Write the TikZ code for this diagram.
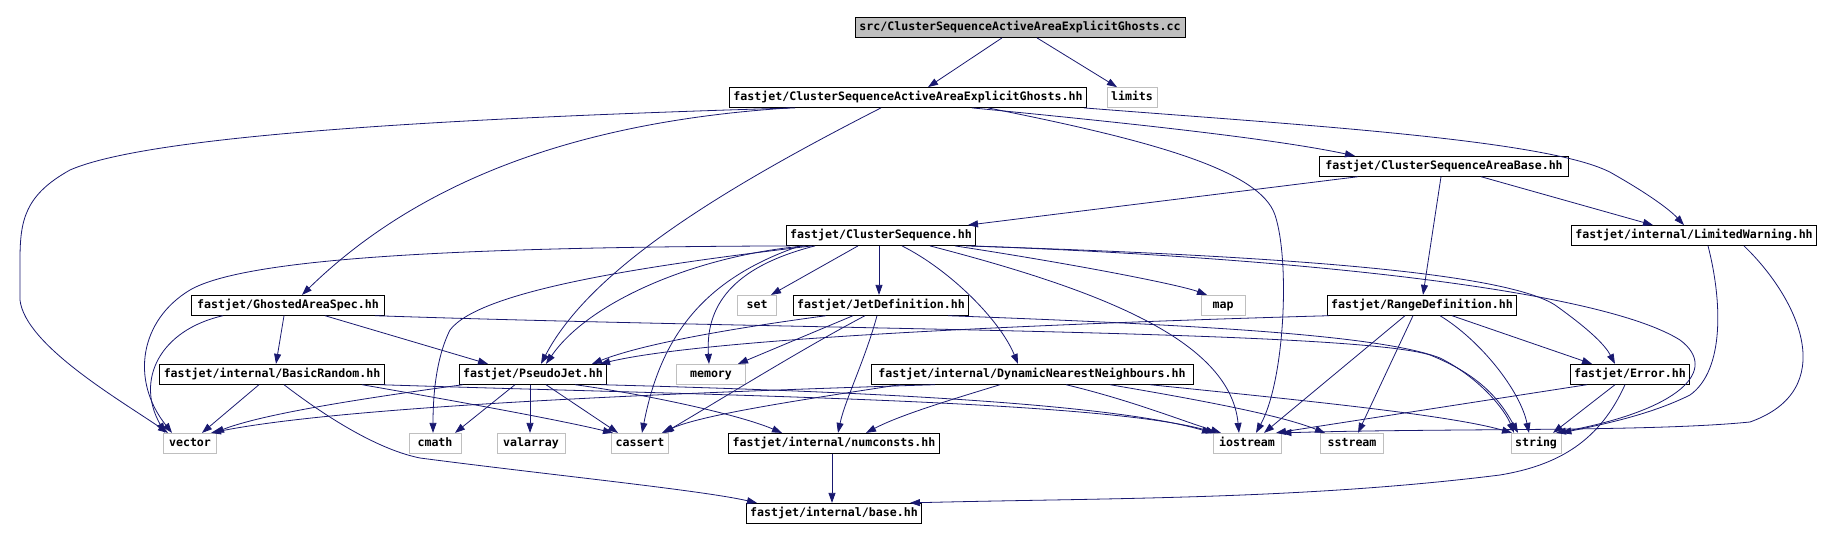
\documentclass[tikz,border=0pt]{standalone}
\usepackage{fontspec}
\setmonofont{DejaVu Sans Mono}
\usetikzlibrary{arrows.meta}

\definecolor{edgeblue}{HTML}{191970}
\definecolor{boxgray}{HTML}{BFBFBF}
\newcommand\hfont{\fontsize{11.6}{12}\selectfont\ttfamily\bfseries}

\begin{document}
\begin{tikzpicture}[x=1pt,y=-1pt,
  hdr/.style={draw=black,fill=white,line width=0.8pt,font=\hfont,minimum height=20pt,
    inner xsep=4pt,inner ysep=0pt,text height=8.6pt,text depth=2.4pt},
  sys/.style={hdr,draw=boxgray},
  topfile/.style={hdr,fill=boxgray},
  dep/.style={draw=edgeblue,line width=0.8pt,-{Triangle[length=10pt,width=7pt]}}]

\useasboundingbox (0,0) rectangle (1844,540);

\def\rowA{27.5}
\def\rowB{97.5}
\def\rowC{166.3}
\def\rowD{235.5}
\def\rowE{305.3}
\def\rowF{374.3}
\def\rowG{443.3}
\def\rowH{513.3}

\node[topfile,minimum width=330pt] (src) at (1020,\rowA) {src/ClusterSequenceActiveAreaExplicitGhosts.cc};

\node[hdr,minimum width=356pt] (csaaeg) at (908,\rowB) {fastjet/ClusterSequenceActiveAreaExplicitGhosts.hh};
\node[sys,minimum width=49pt] (limits) at (1132,\rowB) {limits};

\node[hdr,minimum width=249pt] (csab) at (1444,\rowC) {fastjet/ClusterSequenceAreaBase.hh};

\node[hdr,minimum width=185pt] (clusterseq) at (881,\rowD) {fastjet/ClusterSequence.hh};
\node[hdr,minimum width=245pt] (limwarn) at (1694,\rowD) {fastjet/internal/LimitedWarning.hh};

\node[hdr,minimum width=193pt] (ghosted) at (288,\rowE) {fastjet/GhostedAreaSpec.hh};
\node[sys,minimum width=39pt] (set) at (757,\rowE) {set};
\node[hdr,minimum width=164pt] (jetdef) at (881,\rowE) {fastjet/JetDefinition.hh};
\node[sys,minimum width=44pt] (map) at (1223,\rowE) {map};
\node[hdr,minimum width=189pt] (rangedef) at (1422,\rowE) {fastjet/RangeDefinition.hh};

\node[hdr,minimum width=225pt] (basicrandom) at (272,\rowF) {fastjet/internal/BasicRandom.hh};
\node[hdr,minimum width=144pt] (pseudojet) at (533,\rowF) {fastjet/PseudoJet.hh};
\node[sys,minimum width=69pt] (memory) at (711,\rowF) {memory};
\node[hdr,minimum width=322pt] (dnn) at (1032,\rowF) {fastjet/internal/DynamicNearestNeighbours.hh};
\node[hdr,minimum width=115pt] (error) at (1630,\rowF) {fastjet/Error.hh};

\node[sys,minimum width=53pt] (vector) at (190,\rowG) {vector};
\node[sys,minimum width=52pt] (cmath) at (435,\rowG) {cmath};
\node[sys,minimum width=68pt] (valarray) at (531,\rowG) {valarray};
\node[sys,minimum width=55pt] (cassert) at (640,\rowG) {cassert};
\node[hdr,minimum width=204pt] (numconsts) at (834,\rowG) {fastjet/internal/numconsts.hh};
\node[sys,minimum width=68pt] (iostream) at (1247,\rowG) {iostream};
\node[sys,minimum width=63pt] (sstream) at (1352,\rowG) {sstream};
\node[sys,minimum width=49pt] (string) at (1536,\rowG) {string};

\node[hdr,minimum width=163pt] (base) at (834,\rowH) {fastjet/internal/base.hh};

% straight includes
\foreach \a/\xa/\b/\xb in {src/1002/csaaeg/928, src/1037/limits/1117,
    csab/1358/clusterseq/968, csab/1441/rangedef/1423, csab/1481/limwarn/1653,
    clusterseq/858/set/771, clusterseq/879/jetdef/879, jetdef/853/memory/738,
    ghosted/284/basicrandom/276, ghosted/325/pseudojet/488, basicrandom/259/vector/202,
    pseudojet/515/cmath/455, pseudojet/530/valarray/530, pseudojet/546/cassert/618,
    rangedef/1405/iostream/1264, rangedef/1413/sstream/1358, rangedef/1452/error/1592,
    error/1615/string/1553, error/1587/iostream/1276, numconsts/832/base/832} {
  \draw[dep] (\a.south -| \xa,0) -- (\b.north -| \xb,0);
}

% explicit ghosts header
\draw[dep] (csaaeg.south -| 795,0) .. controls (450,118) and (150,135) .. (70,170)
  .. controls (25,195) and (20,220) .. (20,260) -- (20,300)
  .. controls (25,345) and (120,400) .. (vector.north -| 168,0);
\draw[dep] (csaaeg.south -| 790,0) .. controls (600,120) and (430,170) .. (ghosted.north -| 302,0);
\draw[dep] (csaaeg.south -| 881,0) .. controls (720,190) and (590,270) .. (pseudojet.north -| 541,0);
\draw[dep] (csaaeg.south -| 972,0) .. controls (1150,125) and (1280,140) .. (csab.north -| 1355,0);
\draw[dep] (csaaeg.south -| 988,0) .. controls (1150,140) and (1260,170) .. (1275,215)
  .. controls (1290,260) and (1285,380) .. (iostream.north -| 1256,0);
\draw[dep] (csaaeg.south -| 1084,0) .. controls (1300,125) and (1560,140) .. (1615,175)
  .. controls (1650,195) and (1670,210) .. (limwarn.north -| 1684,0);

% limited warning
\draw[dep] (limwarn.south -| 1708,0) .. controls (1722,300) and (1725,370) .. (1690,395)
  .. controls (1650,415) and (1600,425) .. (string.north east);
\draw[dep] (limwarn.south -| 1744,0) .. controls (1800,300) and (1840,390) .. (1750,422)
  .. controls (1650,432) and (1450,428) .. (iostream.north east);

% cluster sequence
\draw[dep] (clusterseq.south -| 790,0) .. controls (500,247) and (250,255) .. (190,290)
  .. controls (140,320) and (130,380) .. (vector.north -| 172,0);
\draw[dep] (clusterseq.south -| 805,0) .. controls (700,255) and (590,300) .. (pseudojet.north -| 546,0);
\draw[dep] (clusterseq.south -| 812,0) .. controls (650,265) and (480,290) .. (450,330)
  .. controls (435,360) and (433,400) .. (cmath.north -| 433,0);
\draw[dep] (clusterseq.south -| 815,0) .. controls (740,265) and (705,300) .. (memory.north -| 709,0);
\draw[dep] (clusterseq.south -| 800,0) .. controls (700,280) and (660,340) .. (cassert.north -| 642,0);
\draw[dep] (clusterseq.south -| 902,0) .. controls (950,270) and (1000,320) .. (dnn.north -| 1018,0);
\draw[dep] (clusterseq.south -| 930,0) .. controls (1100,290) and (1230,340) .. (iostream.north -| 1239,0);
\draw[dep] (clusterseq.south -| 955,0) .. controls (1080,265) and (1180,285) .. (map.north -| 1207,0);
\draw[dep] (clusterseq.south -| 966,0) .. controls (1250,255) and (1500,270) .. (1555,305)
  .. controls (1590,330) and (1605,345) .. (error.north -| 1615,0);
\draw[dep] (clusterseq.south -| 971,0) .. controls (1300,258) and (1600,290) .. (1680,340)
  .. controls (1720,370) and (1680,410) .. (string.north -| 1556,0);

% jet definition
\draw[dep] (jetdef.south -| 826,0) .. controls (720,330) and (640,345) .. (pseudojet.north -| 592,0);
\draw[dep] (jetdef.south -| 865,0) .. controls (800,350) and (720,400) .. (cassert.north -| 664,0);
\draw[dep] (jetdef.south -| 877,0) .. controls (865,360) and (845,400) .. (numconsts.north -| 838,0);
\draw[dep] (jetdef.south -| 948,0) .. controls (1200,325) and (1380,335) .. (1440,358)
  .. controls (1480,378) and (1505,410) .. (string.north -| 1514,0);

% ghosted area spec
\draw[dep] (ghosted.south -| 223,0) .. controls (160,330) and (135,380) .. (vector.north -| 165,0);
\draw[dep] (ghosted.south -| 375,0) .. controls (800,330) and (1350,330) .. (1430,355)
  .. controls (1480,375) and (1500,400) .. (string.north -| 1518,0);

% basic random
\draw[dep] (basicrandom.south -| 284,0) .. controls (330,420) and (380,450) .. (420,458)
  .. controls (550,475) and (700,490) .. (base.north -| 757,0);
\draw[dep] (basicrandom.south -| 362,0) .. controls (450,400) and (560,420) .. (cassert.north -| 613,0);
\draw[dep] (basicrandom.south -| 380,0) .. controls (700,395) and (1100,400) .. (iostream.north -| 1216,0);

% pseudojet
\draw[dep] (pseudojet.south -| 463,0) .. controls (350,400) and (260,415) .. (vector.north -| 214,0);
\draw[dep] (pseudojet.south -| 575,0) .. controls (650,395) and (740,415) .. (numconsts.north -| 782,0);
\draw[dep] (pseudojet.south -| 601,0) .. controls (800,390) and (1100,400) .. (iostream.north -| 1212,0);

% nearest neighbours
\draw[dep] (dnn.south -| 935,0) .. controls (700,392) and (350,405) .. (vector.north -| 211,0);
\draw[dep] (dnn.south -| 900,0) .. controls (800,400) and (700,415) .. (cassert.north -| 662,0);
\draw[dep] (dnn.south -| 1000,0) .. controls (950,400) and (900,415) .. (numconsts.north -| 866,0);
\draw[dep] (dnn.south -| 1066,0) .. controls (1130,400) and (1180,420) .. (iostream.north -| 1221,0);
\draw[dep] (dnn.south -| 1110,0) .. controls (1200,400) and (1280,415) .. (sstream.north -| 1325,0);
\draw[dep] (dnn.south -| 1150,0) .. controls (1300,400) and (1450,415) .. (string.north -| 1512,0);

% range definition
\draw[dep] (rangedef.south -| 1329,0) .. controls (1000,325) and (700,340) .. (pseudojet.north -| 600,0);
\draw[dep] (rangedef.south -| 1440,0) .. controls (1480,340) and (1520,390) .. (string.north -| 1529,0);

% error
\draw[dep] (error.south -| 1625,0) .. controls (1600,440) and (1560,465) .. (1500,475)
  .. controls (1300,500) and (1100,498) .. (base.north -| 910,0);

\end{tikzpicture}
\end{document}
